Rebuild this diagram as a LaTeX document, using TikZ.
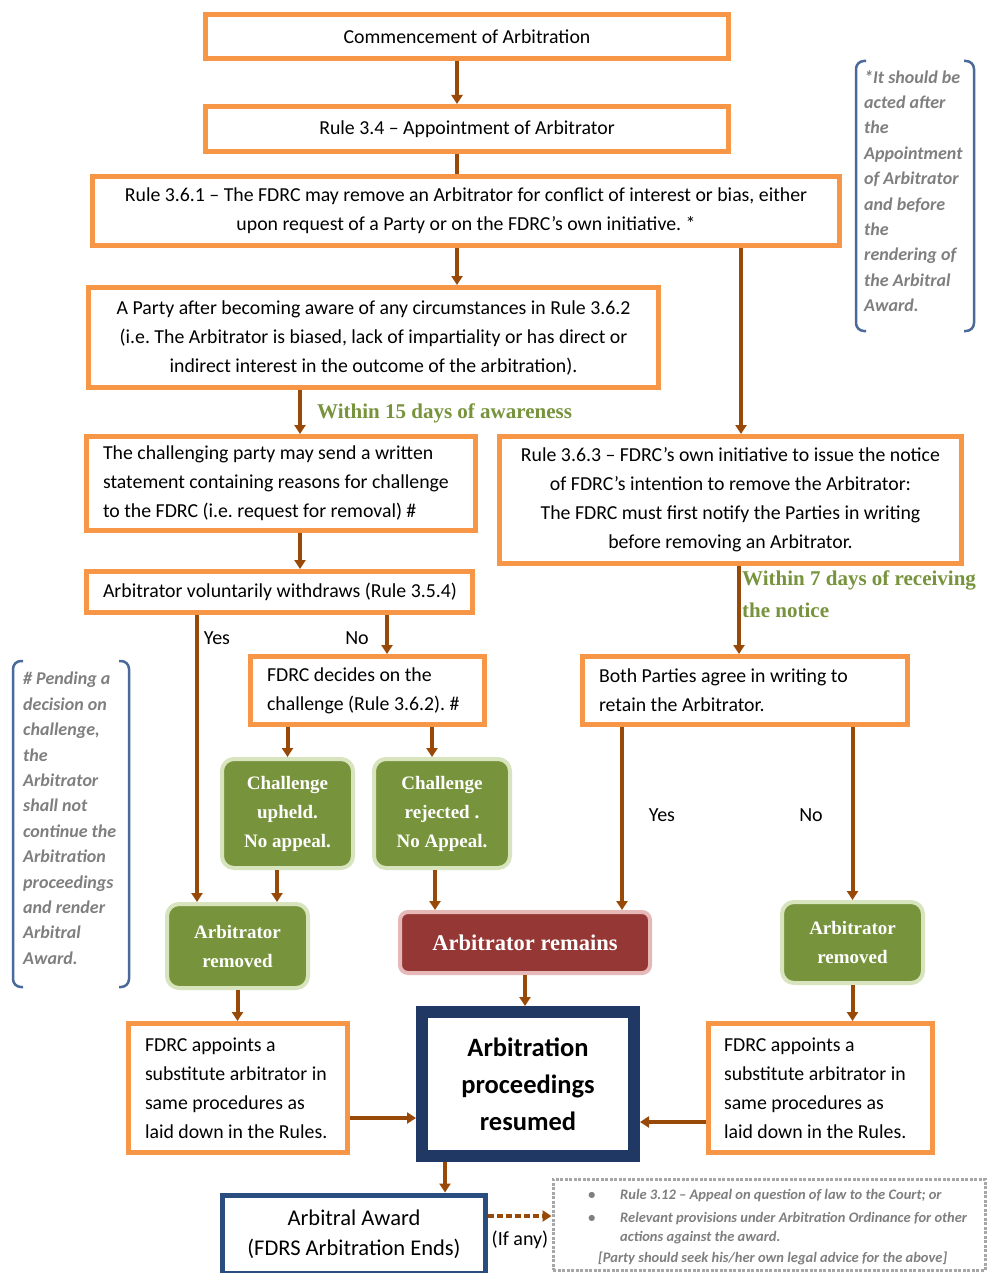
\documentclass[tikz,border=0pt]{standalone}
\usepackage{fontspec}
\setmainfont{Carlito}
\newfontfamily\serifb{Liberation Serif}
\usetikzlibrary{arrows.meta,calc}
\definecolor{orng}{HTML}{F79646}
\definecolor{brwn}{HTML}{984807}
\definecolor{grnf}{HTML}{77933C}
\definecolor{grnb}{HTML}{D7E4BD}
\definecolor{redf}{HTML}{953735}
\definecolor{redb}{HTML}{E6B9B8}
\definecolor{navy}{HTML}{1F3864}
\definecolor{navyb}{HTML}{2A4D80}
\definecolor{notec}{HTML}{7F7F7F}
\definecolor{brk}{HTML}{4A6B9A}
\definecolor{lblg}{HTML}{77933C}
\frenchspacing
\tikzset{
  obox/.style={draw=orng, line width=5pt, fill=white, inner ysep=0pt, font=\fontsize{19.8}{29}\selectfont},
  oboxc/.style={obox, align=center},
  oboxl/.style={obox, align=flush left, inner xsep=16.5pt},
  gbox/.style={draw=grnb, line width=4pt, fill=grnf, rounded corners=12pt, text=white, align=center, font=\serifb\bfseries\fontsize{19}{29}\selectfont, inner sep=0pt},
  arr/.style={draw=brwn, line width=4pt, -{Triangle[length=9pt,width=11pt]}},
  ln/.style={draw=brwn, line width=4pt},
  lbl/.style={font=\fontsize{20}{22}\selectfont, inner sep=0pt},
  glbl/.style={font=\serifb\bfseries\fontsize{21}{32}\selectfont, text=lblg, inner sep=0pt, anchor=west, align=left},
  note/.style={font=\bfseries\itshape\fontsize{18}{25.4}\selectfont, text=notec, inner sep=0pt, align=flush left, anchor=north west},
  brkt/.style={draw=brk, line width=2.5pt, rounded corners=8pt},
  dnote/.style={font=\bfseries\itshape\fontsize{14.5}{17}\selectfont, text=notec, inner sep=0pt, anchor=west}
}
\begin{document}
\begin{tikzpicture}[x=1pt,y=-1pt]
\useasboundingbox (0,0) rectangle (986,1273);
\fill[white] (0,0) rectangle (986,1273);

% boxes
\node[oboxc, minimum width=523pt, minimum height=44pt] (com) at (467,36.5) {Commencement of Arbitration};
\node[oboxc, minimum width=523pt, minimum height=45pt] (r34) at (467,129) {Rule 3.4 -- Appointment of Arbitrator};
\node[oboxc, minimum width=747pt, minimum height=69pt] (r361) at (466,211) {Rule 3.6.1 -- The FDRC may remove an Arbitrator for conflict of interest or bias, either\\upon request of a Party or on the FDRC’s own initiative. *};
\node[oboxc, minimum width=570pt, minimum height=100pt] (party) at (373.5,337.5) {A Party after becoming aware of any circumstances in Rule 3.6.2\\(i.e. The Arbitrator is biased, lack of impartiality or has direct or\\indirect interest in the outcome of the arbitration).};
\node[oboxl, text width=356pt, minimum height=94pt] (chal) at (281,483.5) {\mbox{The challenging party may send a written}\\\mbox{statement containing reasons for challenge}\\\mbox{to the FDRC (i.e. request for removal) \#}};
\node[oboxc, minimum width=462pt, minimum height=127pt] (r363) at (730.5,500) {Rule 3.6.3 -- FDRC’s own initiative to issue the notice\\of FDRC’s intention to remove the Arbitrator:\\The FDRC must first notify the Parties in writing\\before removing an Arbitrator.};
\node[oboxl, text width=353pt, minimum height=41pt] (vol) at (279.5,592) {\mbox{Arbitrator voluntarily withdraws (Rule 3.5.4)}};
\node[oboxl, text width=201pt, minimum height=68pt] (dec) at (367.5,690.5) {\mbox{FDRC decides on the}\\\mbox{challenge (Rule 3.6.2). \#}};
\node[oboxl, text width=292pt, minimum height=68pt] (both) at (745,690.5) {\mbox{Both Parties agree in writing to}\\\mbox{retain the Arbitrator.}};

\node[gbox, minimum width=131pt, minimum height=109pt] (up) at (287.5,813.5) {Challenge\\upheld.\\No appeal.};
\node[gbox, minimum width=136pt, minimum height=109pt] (rej) at (442,813.5) {Challenge\\rejected .\\No Appeal.};
\node[gbox, minimum width=141pt, minimum height=84pt] (remL) at (237.5,946) {Arbitrator\\removed};
\node[gbox, draw=redb, fill=redf, rounded corners=8pt, font=\serifb\bfseries\fontsize{22.5}{26}\selectfont, minimum width=250pt, minimum height=61pt] (remains) at (525,942.5) {Arbitrator remains};
\node[gbox, minimum width=141pt, minimum height=81pt] (remR) at (852.5,942.5) {Arbitrator\\removed};

\node[oboxl, text width=186pt, minimum height=129pt] (appL) at (238,1088) {\mbox{FDRC appoints a}\\\mbox{substitute arbitrator in}\\\mbox{same procedures as}\\\mbox{laid down in the Rules.}};
\node[oboxl, inner xsep=15.5pt, text width=193pt, minimum height=129pt] (appR) at (820.5,1088) {\mbox{FDRC appoints a}\\\mbox{substitute arbitrator in}\\\mbox{same procedures as}\\\mbox{laid down in the Rules.}};
\node[draw=navy, line width=12pt, fill=white, align=center, inner sep=0pt, font=\bfseries\fontsize{26.5}{37}\selectfont, minimum width=212pt, minimum height=144pt] (res) at (528,1084) {Arbitration\\proceedings\\resumed};
\node[draw=navyb, line width=5pt, fill=white, align=center, inner sep=0pt, font=\fontsize{22.5}{30}\selectfont, minimum width=263pt, minimum height=78pt] (award) at (354,1234) {Arbitral Award\\(FDRS Arbitration Ends)};
\node[draw=gray!70, line width=3pt, dash pattern=on 3pt off 1.5pt, minimum width=432pt, minimum height=91pt, inner sep=0pt] (dot) at (769,1224.5) {};

% dotted box text
\node[dnote] (b1) at (588,1196) {\textbullet};
\node[dnote] (b2) at (588,1219) {\textbullet};
\node[dnote] (t1) at (620,1196) {Rule 3.12 -- Appeal on question of law to the Court; or};
\node[dnote] (t2) at (620,1219) {Relevant provisions under Arbitration Ordinance for other};
\node[dnote] (t3) at (620,1238) {actions against the award.};
\node[dnote] (t4) at (598,1258) {[Party should seek his/her own legal advice for the above]};

% notes with brackets
\draw[brkt] (866,61) -- (856,61) -- (856,331) -- (866,331);
\draw[brkt] (964,61) -- (974,61) -- (974,331) -- (964,331);
\node[note] (n1) at (864,70) {*It should be\\acted after\\the\\Appointment\\of Arbitrator\\and before\\the\\rendering of\\the Arbitral\\Award.};
\draw[brkt] (23,661) -- (13,661) -- (13,987) -- (23,987);
\draw[brkt] (119,661) -- (129,661) -- (129,987) -- (119,987);
\node[note] (n2) at (23,672) {\# Pending a\\decision on\\challenge,\\the\\Arbitrator\\shall not\\continue the\\Arbitration\\proceedings\\and render\\Arbitral\\Award.};

% connectors
\draw[arr] ([xshift=-10pt]com.south) -- ([xshift=-10pt]r34.north);
\draw[ln] ([xshift=-10pt]r34.south) -- ([xshift=-9pt]r361.north);
\draw[arr] ([xshift=-9pt]r361.south) -- ([xshift=-9pt]r361.south |- party.north);
\draw[arr] ([xshift=275pt]r361.south) -- ([xshift=275pt]r361.south |- r363.north);
\draw[arr] ([xshift=19pt]chal.north |- party.south) -- ([xshift=19pt]chal.north);
\draw[arr] ([xshift=19pt]chal.south) -- ([xshift=19pt]chal.south |- vol.north);
\draw[arr] ([xshift=-40.5pt]remL.north |- vol.south) -- ([xshift=-40.5pt]remL.north);
\draw[arr] ([xshift=19.5pt]dec.north |- vol.south) -- ([xshift=19.5pt]dec.north);
\draw[arr] (up.north |- dec.south) -- (up.north);
\draw[arr] ([xshift=-10pt]rej.north |- dec.south) -- ([xshift=-10pt]rej.north);
\draw[arr] ([xshift=-10.5pt]up.south) -- ([xshift=-10.5pt]up.south |- remL.north);
\draw[arr] ([xshift=-7pt]rej.south) -- ([xshift=-7pt]rej.south |- remains.north);
\draw[arr] ([xshift=-6pt]both.north |- r363.south) -- ([xshift=-6pt]both.north);
\draw[arr] ([xshift=97pt]remains.north |- both.south) -- ([xshift=97pt]remains.north);
\draw[arr] (remR.north |- both.south) -- (remR.north);
\draw[arr] (remL.south) -- (remL.south |- appL.north);
\draw[arr] (remains.south) -- (remains.south |- res.north);
\draw[arr] (remR.south) -- (remR.south |- appR.north);
\draw[arr] ([yshift=-30pt]appL.east) -- ([yshift=-30pt]appL.east -| res.west);
\draw[arr] ([yshift=-34pt]appR.west) -- ([yshift=-34pt]appR.west -| res.east);
\draw[arr] ([xshift=-83pt]res.south) -- ([xshift=-83pt]res.south |- award.north);
\draw[draw=brwn, line width=4pt, dash pattern=on 6pt off 3pt, -{Triangle[length=9pt,width=11pt]}] ([yshift=18pt]award.east) -- ([yshift=18pt]award.east -| dot.west);

% labels
\node[lbl] (yes1) at (217,638) {Yes};
\node[lbl] (no1) at (357,638) {No};
\node[lbl] (yes2) at (662,815) {Yes};
\node[lbl] (no2) at (811,815) {No};
\node[lbl] (ifany) at (520,1240) {(If any)};
\node[glbl] (w15) at (317,413) {Within 15 days of awareness};
\node[glbl, anchor=north west] (w7) at (742,571) {Within 7 days of receiving\\the notice};
\end{tikzpicture}
\end{document}
